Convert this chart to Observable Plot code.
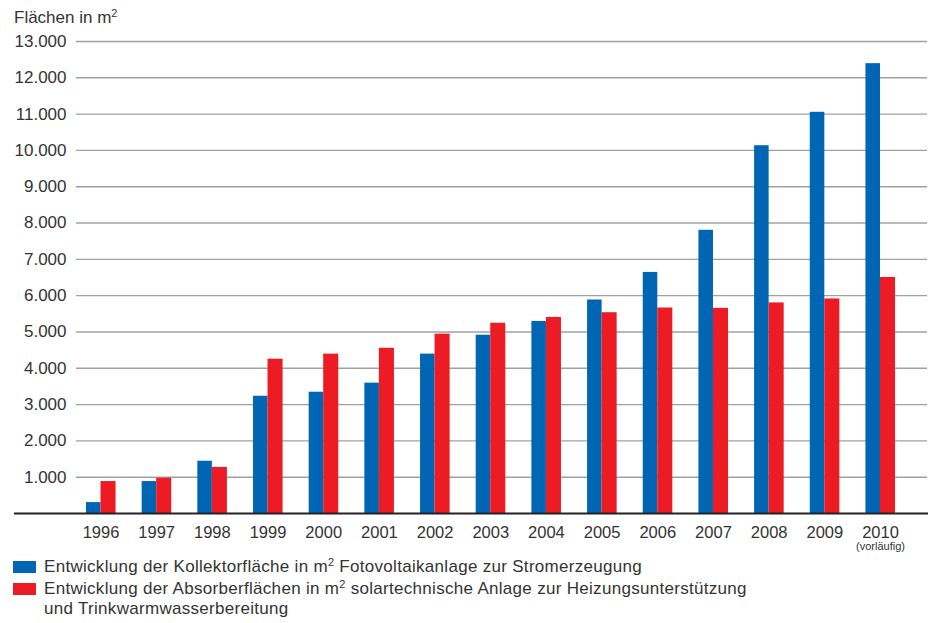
<!DOCTYPE html>
<html><head><meta charset="utf-8">
<script src="https://cdn.jsdelivr.net/npm/d3@7"></script>
<script src="https://cdn.jsdelivr.net/npm/@observablehq/plot@0.6"></script>
<style>
body{margin:0;background:#fff;font-family:"Liberation Sans",Arial,sans-serif;color:#333;width:936px;height:623px;overflow:hidden;position:relative}
#title{position:absolute;left:14px;top:8.6px;font-size:17px;line-height:17px;white-space:nowrap}
#chart{position:absolute;left:0;top:28px}
#legend{position:absolute;left:13px;top:557.4px;font-size:17px;line-height:20px;letter-spacing:0.3px}
.item{display:flex;align-items:flex-start;margin-bottom:2px}
.sw{flex:none;width:23px;height:12px;margin-right:8px;margin-top:4px}
sup{font-size:11px;vertical-align:6px;line-height:0}
</style>
</head><body>
<div id="title"></div>
<div id="chart"></div>
<div id="legend"></div>
<script>
const years = ["1996","1997","1998","1999","2000","2001","2002","2003","2004","2005","2006","2007","2008","2009","2010"];
const kollektor = [300, 880, 1440, 3230, 3340, 3590, 4390, 4910, 5290, 5880, 6640, 7800, 10130, 11050, 12390];
const absorber = [880, 970, 1270, 4250, 4390, 4550, 4940, 5240, 5400, 5530, 5660, 5650, 5800, 5910, 6500];
const yTicks = [1000,2000,3000,4000,5000,6000,7000,8000,9000,10000,11000,12000,13000];
const notes = [{year:"2010", note:"(vorläufig)"}];
const titleText = "Flächen in m<sup>2</sup>";
const seriesNames = ["Entwicklung der Kollektorfläche in m<sup>2</sup> Fotovoltaikanlage zur Stromerzeugung",
  "Entwicklung der Absorberflächen in m<sup>2</sup> solartechnische Anlage zur Heizungsunterstützung<br>und Trinkwarmwasserbereitung"];
const colors = ["#0066b3", "#ed1c24"];

const de = d3.formatLocale({decimal: ",", thousands: ".", grouping: [3], currency: ["", "€"]});
const fmt = de.format(",d");
const kData = years.map((y,i)=>({year:y, value:kollektor[i]}));
const aData = years.map((y,i)=>({year:y, value:absorber[i]}));

const chart = Plot.plot({
  width: 936, height: 526,
  marginTop: 13, marginBottom: 41, marginLeft: 76, marginRight: 9,
  style: {fontFamily: "Liberation Sans, Arial, sans-serif", color: "#333", background: "#fff"},
  x: {domain: years, range: [72.67, 907.83], padding: 0, round: false, label: null},
  y: {domain: [0, 13000], label: null},
  marks: [
    Plot.ruleY(yTicks, {stroke: "#a0a0a0", strokeWidth: 1.4}),
    Plot.barY(kData, {x: "year", y: "value", fill: colors[0], insetLeft: 13.3, insetRight: 27.83}),
    Plot.barY(aData, {x: "year", y: "value", fill: colors[1], insetLeft: 27.83, insetRight: 12.8}),
    Plot.ruleY([0], {stroke: "#222", strokeWidth: 2, insetLeft: -62, insetRight: -1}),
    Plot.axisY({ticks: yTicks, tickFormat: fmt, tickSize: 0, tickPadding: 10, fontSize: 17, label: null}),
    Plot.axisX({tickSize: 0, tickPadding: 13, fontSize: 16.5, label: null}),
    Plot.text(notes, {x: "year", text: "note", frameAnchor: "bottom", dy: 36, fontSize: 11})
  ]
});
document.getElementById("chart").appendChild(chart);
document.getElementById("title").innerHTML = titleText;
const legend = document.getElementById("legend");
seriesNames.forEach((n,i)=>{
  const it = document.createElement("div"); it.className="item";
  const sw = document.createElement("span"); sw.className="sw"; sw.style.background=colors[i];
  const tx = document.createElement("span"); tx.innerHTML = n;
  it.appendChild(sw); it.appendChild(tx); legend.appendChild(it);
});
</script>
</body></html>
